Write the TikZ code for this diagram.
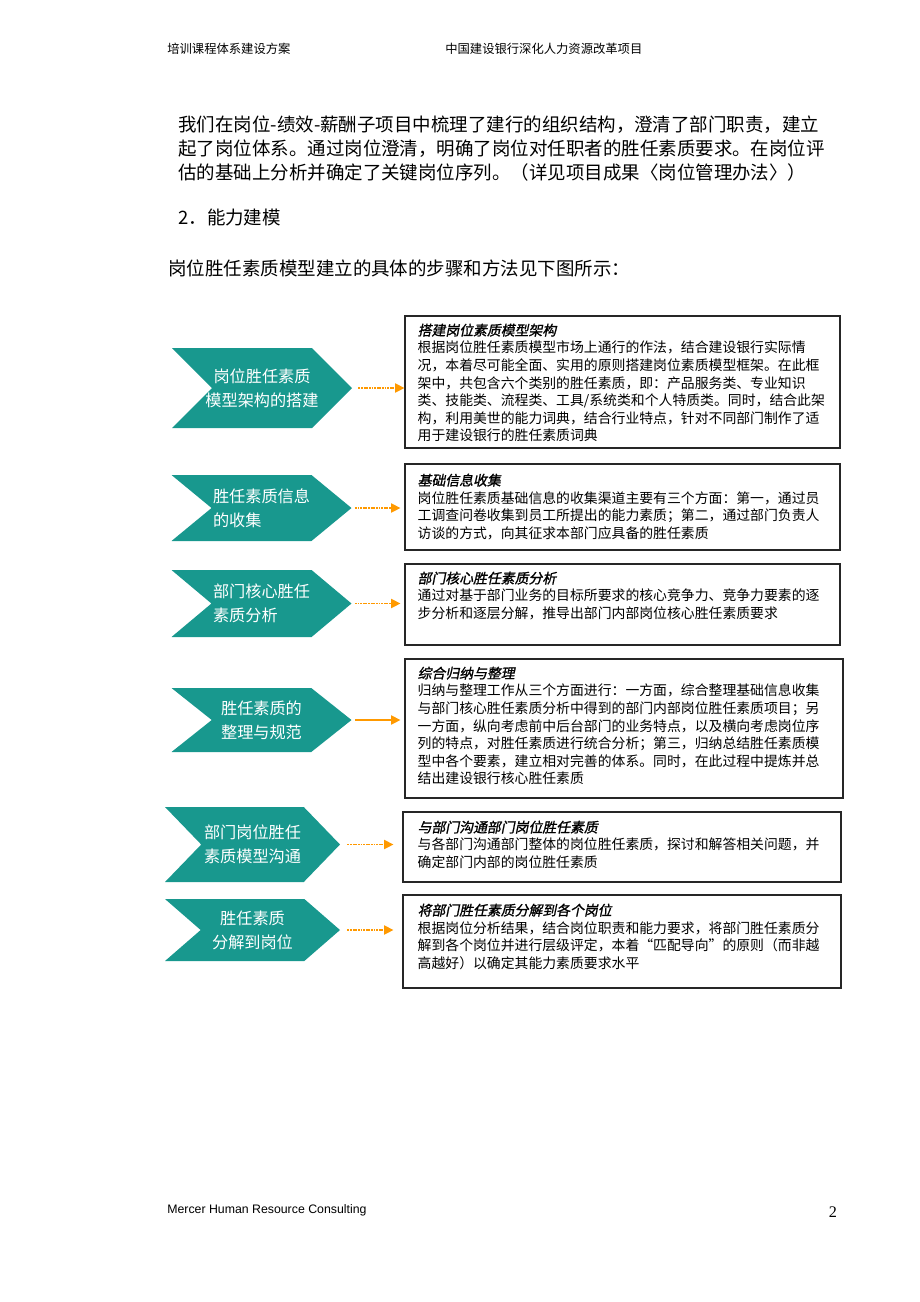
\documentclass[tikz,border=0pt]{standalone}
\usepackage{fontspec}
\usepackage{xcolor}
\usepackage{tikz}
\usetikzlibrary{shapes.symbols,arrows.meta,positioning}

\newfontfamily\cjk{Noto Sans CJK SC}
\newfontfamily\cjkti[FakeSlant=0.2,FakeBold=1.2]{Noto Sans CJK SC}
\newfontfamily\arialfont{Liberation Sans}
\newfontfamily\seriffont{Liberation Serif}

\definecolor{chevteal}{RGB}{24,152,142}
\definecolor{floworange}{RGB}{255,153,0}

\newlength\unitpx
\setlength\unitpx{0.2283mm}

\tikzset{
	chev/.style={signal, signal to=east, signal from=west, fill=chevteal, text=white,
		inner sep=0pt, minimum width=180\unitpx, font=\cjk\fontsize{10.5}{15.5}\selectfont},
	infobox/.style={draw=black!85, line width=0.8pt, minimum width=435\unitpx},
	boxtext/.style={anchor=north west, inner sep=0pt, align=left, font=\cjk\fontsize{9}{11.4}\selectfont},
	flow/.style={draw=floworange, line width=0.8pt, dash pattern=on 1.2pt off 0.5pt,
		-{Triangle[length=6pt,width=6pt]}},
	pagetext/.style={anchor=west, inner sep=0pt, font=\cjk\fontsize{8}{10}\selectfont}
}

\begin{document}
\begin{tikzpicture}[x=0.2283mm,y=-0.2283mm]
	\useasboundingbox (0,0) rectangle (920,1302);

	% header and text
	\node[pagetext] (headl) at (167,49) {培训课程体系建设方案};
	\node[pagetext] (headr) at (445,49) {中国建设银行深化人力资源改革项目};
	\node[anchor=north west, inner sep=0pt, align=left, font=\cjk\fontsize{12}{15.5}\selectfont] (intro) at (178,116)
		{我们在岗位-绩效-薪酬子项目中梳理了建行的组织结构，澄清了部门职责，建立\\
		起了岗位体系。通过岗位澄清，明确了岗位对任职者的胜任素质要求。在岗位评\\
		估的基础上分析并确定了关键岗位序列。（详见项目成果〈岗位管理办法〉）};
	\node[anchor=west, inner sep=0pt, font=\cjk\fontsize{12}{15.5}\selectfont] (sect) at (178,217) {2．能力建模};
	\node[anchor=west, inner sep=0pt, font=\cjk\fontsize{12}{15.5}\selectfont] (lead) at (168,268) {岗位胜任素质模型建立的具体的步骤和方法见下图所示：};

	% steps
	\node[chev, inner xsep=-8\unitpx, minimum height=80\unitpx, signal pointer angle=90, align=center] (c1) at (262,388) {岗位胜任素质\\模型架构的搭建};
	\node[chev, minimum height=66\unitpx, signal pointer angle=79, align=left] (c2) at (261.5,508) {胜任素质信息\\的收集};
	\node[chev, minimum height=67\unitpx, signal pointer angle=80, align=left] (c3) at (261.5,603.5) {部门核心胜任\\素质分析};
	\node[chev, minimum height=64\unitpx, signal pointer angle=77, align=center] (c4) at (261.5,720) {胜任素质的\\整理与规范};
	\node[chev, minimum width=175\unitpx, minimum height=75\unitpx, signal pointer angle=92, align=center] (c5) at (252.5,844.5) {部门岗位胜任\\素质模型沟通};
	\node[chev, minimum width=175\unitpx, minimum height=62\unitpx, signal pointer angle=82, align=center] (c6) at (252.5,930) {胜任素质\\分解到岗位};

	% descriptions
	\node[infobox, minimum height=132\unitpx] (b1) at (622.5,382) {};
	\node[infobox, minimum height=86\unitpx] (b2) at (622.5,507) {};
	\node[infobox, minimum height=81\unitpx] (b3) at (622.5,604.5) {};
	\node[infobox, minimum width=438\unitpx, minimum height=139\unitpx] (b4) at (624,728.5) {};
	\node[infobox, minimum width=438\unitpx, minimum height=70\unitpx] (b5) at (622,847) {};
	\node[infobox, minimum width=438\unitpx, minimum height=93\unitpx] (b6) at (622,941.5) {};

	\node[boxtext] (t1) at ([shift={(13,8)}]b1.north west) {{\cjkti 搭建岗位素质模型架构}\\
		根据岗位胜任素质模型市场上通行的作法，结合建设银行实际情\\
		况，本着尽可能全面、实用的原则搭建岗位素质模型框架。在此框\\
		架中，共包含六个类别的胜任素质，即：产品服务类、专业知识\\
		类、技能类、流程类、工具/系统类和个人特质类。同时，结合此架\\
		构，利用美世的能力词典，结合行业特点，针对不同部门制作了适\\
		用于建设银行的胜任素质词典};
	\node[boxtext] (t2) at ([shift={(13,10)}]b2.north west) {{\cjkti 基础信息收集}\\
		岗位胜任素质基础信息的收集渠道主要有三个方面：第一，通过员\\
		工调查问卷收集到员工所提出的能力素质；第二，通过部门负责人\\
		访谈的方式，向其征求本部门应具备的胜任素质};
	\node[boxtext] (t3) at ([shift={(13,8)}]b3.north west) {{\cjkti 部门核心胜任素质分析}\\
		通过对基于部门业务的目标所要求的核心竞争力、竞争力要素的逐\\
		步分析和逐层分解，推导出部门内部岗位核心胜任素质要求};
	\node[boxtext] (t4) at ([shift={(13,8)}]b4.north west) {{\cjkti 综合归纳与整理}\\
		归纳与整理工作从三个方面进行：一方面，综合整理基础信息收集\\
		与部门核心胜任素质分析中得到的部门内部岗位胜任素质项目；另\\
		一方面，纵向考虑前中后台部门的业务特点，以及横向考虑岗位序\\
		列的特点，对胜任素质进行统合分析；第三，归纳总结胜任素质模\\
		型中各个要素，建立相对完善的体系。同时，在此过程中提炼并总\\
		结出建设银行核心胜任素质};
	\node[boxtext] (t5) at ([shift={(15,9)}]b5.north west) {{\cjkti 与部门沟通部门岗位胜任素质}\\
		与各部门沟通部门整体的岗位胜任素质，探讨和解答相关问题，并\\
		确定部门内部的岗位胜任素质};
	\node[boxtext] (t6) at ([shift={(15,9)}]b6.north west) {{\cjkti 将部门胜任素质分解到各个岗位}\\
		根据岗位分析结果，结合岗位职责和能力要求，将部门胜任素质分\\
		解到各个岗位并进行层级评定，本着“匹配导向”的原则（而非越\\
		高越好）以确定其能力素质要求水平};

	\draw[flow, shorten <=6\unitpx] (c1.east) -- (c1.east -| b1.west);
	\draw[flow, shorten <=3\unitpx, shorten >=4\unitpx] (c2.east) -- (c2.east -| b2.west);
	\draw[flow, shorten <=3\unitpx, shorten >=4\unitpx] (c3.east) -- (c3.east -| b3.west);
	\draw[flow, solid, shorten <=3\unitpx, shorten >=4\unitpx] (c4.east) -- (c4.east -| b4.west);
	\draw[flow, shorten <=7\unitpx, shorten >=9\unitpx] (c5.east) -- (c5.east -| b5.west);
	\draw[flow, shorten <=7\unitpx, shorten >=9\unitpx] (c6.east) -- (c6.east -| b6.west);

	% footer
	\node[anchor=west, inner sep=0pt, font=\arialfont\fontsize{8}{10}\selectfont] (foot) at (167,1210) {Mercer Human Resource Consulting};
	\node[inner sep=0pt, font=\seriffont\fontsize{10.5}{12}\selectfont] (pagenum) at (833,1212) {2};
\end{tikzpicture}
\end{document}
